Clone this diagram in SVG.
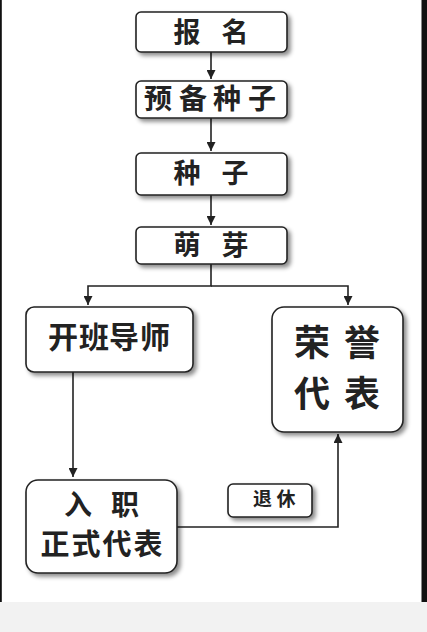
<svg xmlns="http://www.w3.org/2000/svg" width="427" height="632" viewBox="0 0 427 632">
<style>
.box{fill:#fff;stroke:#222;stroke-width:1.6;filter:url(#sh)}
.t{font-family:"Noto Sans CJK SC","Noto Sans CJK JP",sans-serif;font-weight:bold;fill:#222;text-anchor:middle}
.ln{fill:none;stroke:#222;stroke-width:1.6}
</style>
<defs>
<filter id="sh" x="-20%" y="-20%" width="140%" height="150%">
<feDropShadow dx="3" dy="3" stdDeviation="2" flood-color="#000" flood-opacity="0.45"/>
</filter>
<marker id="ah" viewBox="0 0 10 10" refX="10" refY="5" markerWidth="9" markerHeight="9" markerUnits="userSpaceOnUse" orient="auto">
<path d="M0,0 L10,5 L0,10 Z" fill="#222"/>
</marker>
</defs>
<rect x="0" y="0" width="427" height="632" fill="#fff"/>
<rect x="0" y="602" width="427" height="30" fill="#f2f2f2"/>
<rect x="0" y="0" width="1.8" height="602" fill="#111"/>
<rect x="421.5" y="0" width="5.5" height="602" fill="#111"/>

<g id="connectors">
<line class="ln" x1="211" y1="52" x2="211" y2="79" marker-end="url(#ah)"/>
<line class="ln" x1="211" y1="118" x2="211" y2="151" marker-end="url(#ah)"/>
<line class="ln" x1="211" y1="195" x2="211" y2="225" marker-end="url(#ah)"/>
<polyline class="ln" points="211,264 211,286 88,286 88,305" marker-end="url(#ah)"/>
<polyline class="ln" points="211,286 348,286 348,305" marker-end="url(#ah)"/>
<line class="ln" x1="73" y1="372" x2="73" y2="477" marker-end="url(#ah)"/>
<polyline class="ln" points="177,527 338,527 338,434" marker-end="url(#ah)"/>
</g>

<g id="n1"><rect class="box" x="136" y="12" width="151" height="40" rx="5"/>
<text class="t" x="187 235" y="41.5" font-size="27">报名</text></g>
<g id="n2"><rect class="box" x="136" y="81" width="151" height="37" rx="5"/>
<text class="t" x="158 193 227 262" y="108.5" font-size="28">预备种子</text></g>
<g id="n3"><rect class="box" x="136" y="153" width="151" height="42" rx="5"/>
<text class="t" x="187 235" y="182.5" font-size="27">种子</text></g>
<g id="n4"><rect class="box" x="136" y="227" width="151" height="37" rx="5"/>
<text class="t" x="187 235" y="255" font-size="27">萌芽</text></g>
<g id="n5"><rect class="box" x="26" y="307" width="167" height="65" rx="8"/>
<text class="t" x="63 94 124 155" y="348" font-size="30">开班导师</text></g>
<g id="n6"><rect class="box" x="272" y="307" width="131" height="125" rx="12"/>
<text class="t" x="312 362" y="356" font-size="36">荣誉</text>
<text class="t" x="312 362" y="407" font-size="36">代表</text></g>
<g id="n7"><rect class="box" x="26" y="480" width="151" height="93" rx="12"/>
<text class="t" x="78 125" y="515" font-size="28">入职</text>
<text class="t" x="55 86 117 148" y="554.5" font-size="29">正式代表</text></g>
<g id="n8"><rect class="box" x="228" y="484" width="84" height="33" rx="5"/>
<text class="t" x="262.5 286" y="505.5" font-size="19">退休</text></g>
</svg>
